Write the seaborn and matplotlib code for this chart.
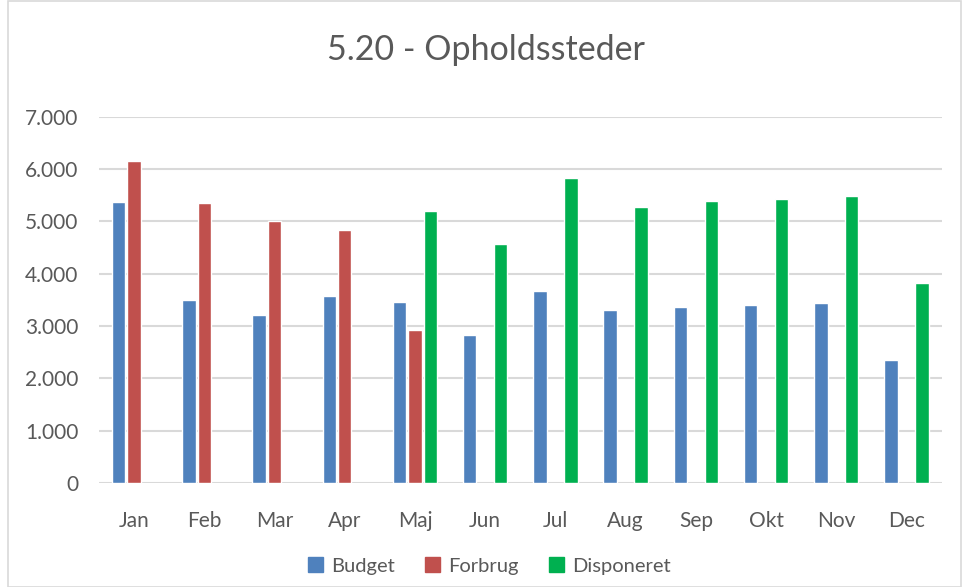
import numpy as np
import pandas as pd
import matplotlib.pyplot as plt
import matplotlib.ticker as mticker
from matplotlib.patches import Rectangle
import seaborn as sns

# data
months = ['Jan', 'Feb', 'Mar', 'Apr', 'Maj', 'Jun', 'Jul', 'Aug', 'Sep', 'Okt', 'Nov', 'Dec']
budget = [5370, 3500, 3210, 3570, 3460, 2830, 3670, 3310, 3370, 3410, 3440, 2360]
forbrug = [6150, 5350, 5010, 4840, 2930, np.nan, np.nan, np.nan, np.nan, np.nan, np.nan, np.nan]
disponeret = [np.nan, np.nan, np.nan, np.nan, 5200, 4570, 5830, 5280, 5390, 5430, 5490, 3830]
series = ['Budget', 'Forbrug', 'Disponeret']
colors = ['#4F81BD', '#C0504D', '#00B050']

df = pd.DataFrame({'Måned': months, 'Budget': budget, 'Forbrug': forbrug, 'Disponeret': disponeret})
df = df.melt(id_vars='Måned', var_name='Serie', value_name='Beløb').dropna()

sns.set_style('white')
plt.rcParams['font.family'] = ['Lato', 'DejaVu Sans']
text_col = '#595959'

fig = plt.figure(figsize=(9.63, 5.87), dpi=100)
ax = fig.add_axes([0.1028, 0.177, 0.875, 0.624])

sns.barplot(data=df, x='Måned', y='Beløb', hue='Serie', order=months, hue_order=series,
            palette=colors, width=0.66, gap=0.13, saturation=1, errorbar=None, ax=ax, zorder=3)

ax.set_ylim(0, 7000)
ax.set_xlim(-0.5, 11.5)
ax.yaxis.set_major_locator(mticker.MultipleLocator(1000))
ax.yaxis.set_major_formatter(mticker.FuncFormatter(lambda v, p: f'{int(v):,}'.replace(',', '.')))
ax.grid(axis='y', color='#d9d9d9', linewidth=1.5, zorder=0)
ax.set_axisbelow(True)
for s in ax.spines.values():
    s.set_visible(False)
ax.tick_params(axis='both', length=0, labelsize=15, colors=text_col)
ax.tick_params(axis='y', pad=15)
ax.tick_params(axis='x', pad=20)
ax.set_xlabel('')
ax.set_ylabel('')

fig.text(0.505, 0.915, '5.20 - Opholdssteder', ha='center', va='center', fontsize=24.5, color=text_col)

ax.get_legend().remove()
handles = [Rectangle((0, 0), 1, 1, color=c) for c in colors]
fig.legend(handles, series, loc='lower center', bbox_to_anchor=(0.508, -0.01), ncol=3, frameon=False,
           fontsize=14.5, labelcolor=text_col, handlelength=0.75, handleheight=0.75, handletextpad=0.4,
           columnspacing=1.5)

# chart border
fig.patches.append(Rectangle((0.008, 0.0), 0.99, 0.998, transform=fig.transFigure, fill=False,
                             edgecolor='#d9d9d9', linewidth=1.2))

fig.savefig('out.png', dpi=100)
